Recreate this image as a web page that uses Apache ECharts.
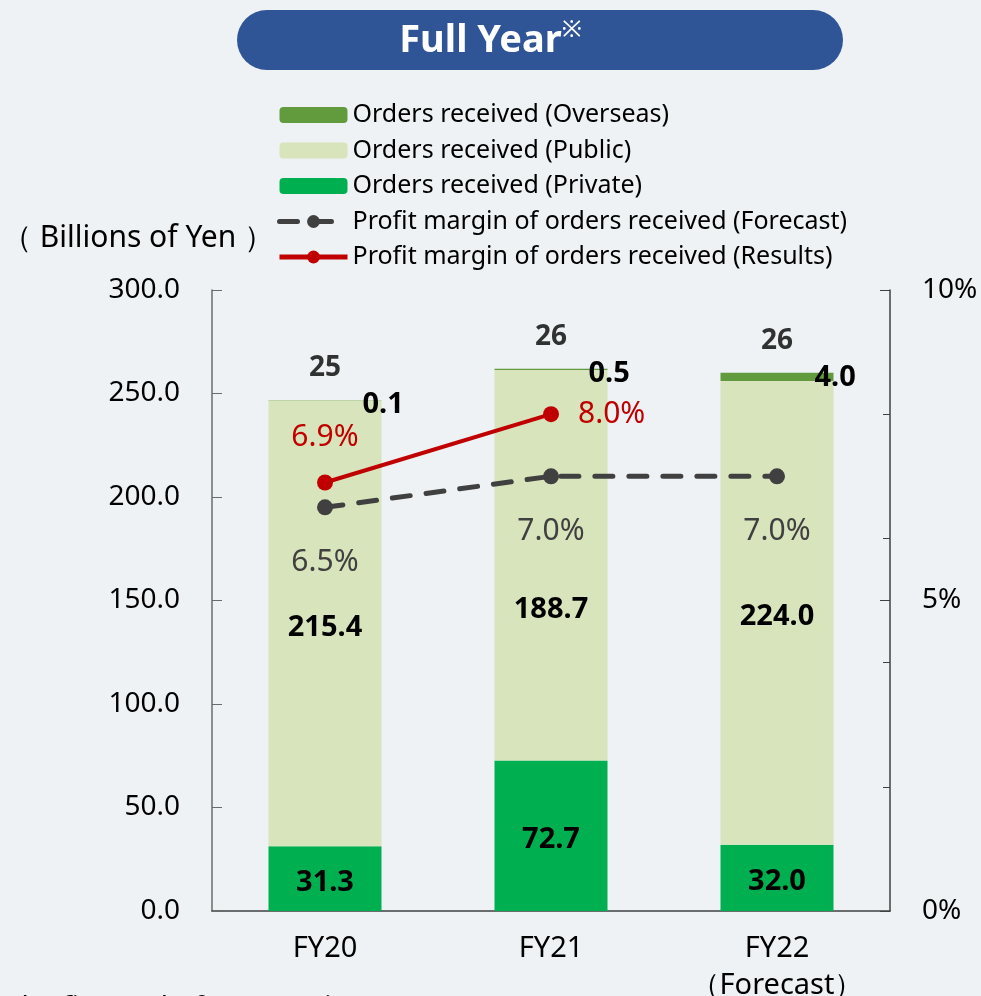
<!DOCTYPE html>
<html>
<head>
<meta charset="utf-8">
<script src="https://cdn.jsdelivr.net/npm/echarts@6/dist/echarts.min.js"></script>
<style>
html,body{margin:0;padding:0;background:#eef2f4;}
#c{width:981px;height:996px;}
</style>
</head>
<body>
<div id="c"></div>
<script>
const categories = ['FY20', 'FY21', 'FY22\n（Forecast）'];
const privateVals = [31.3, 72.7, 32.0];
const publicVals = [215.4, 188.7, 224.0];
const overseasVals = [0.1, 0.5, 4.0];
const totalLabels = ['25', '26', '26'];
const forecastMargin = [6.5, 7.0, 7.0];
const resultsMargin = [6.9, 8.0, null];
const leftAxis = {min: 0, max: 300, interval: 50};
const rightAxis = {min: 0, max: 10, interval: 5, minorInterval: 2};

const FONT = '"Noto Sans", sans-serif';
const totals = categories.map((c, i) => privateVals[i] + publicVals[i] + overseasVals[i]);

const chart = echarts.init(document.getElementById('c'), null, {renderer: 'canvas'});
const option = {
  backgroundColor: '#eef2f4',
  textStyle: {fontFamily: FONT},
  animation: false,
  graphic: [
    {type: 'rect', left: 237, top: 10, shape: {width: 606, height: 60, r: 30}, style: {fill: '#2f5597'}},
    {type: 'text', left: 'center', top: 18, style: {
      text: '{t|Full Year}{s|※}',
      rich: {t: {fontSize: 38, fontWeight: 'bold', fill: '#fff', fontFamily: FONT, lineHeight: 46},
             s: {fontSize: 24, fill: '#fff', fontFamily: FONT, verticalAlign: 'top', lineHeight: 30}}
    }},
    {type: 'text', left: 2, top: 223, style: {text: '（ Billions of Yen ）', fontSize: 30, fill: '#000', fontFamily: FONT}},
    {type: 'text', left: -36, top: 994, style: {text: '(※) the figures before FY21 i', fontSize: 28, fill: '#000', fontFamily: FONT}}
  ],
  legend: {
    orient: 'vertical', left: 272, top: 97,
    itemWidth: 68, itemHeight: 16, itemGap: 9.5, itemTextGap: 7,
    textStyle: {fontSize: 25, color: '#000', fontFamily: FONT, lineHeight: 26},
    data: [
      {name: 'Orders received (Overseas)'},
      {name: 'Orders received (Public)'},
      {name: 'Orders received (Private)'},
      {name: 'Profit margin of orders received (Forecast)', lineStyle: {width: 5}},
      {name: 'Profit margin of orders received (Results)', lineStyle: {width: 5}}
    ]
  },
  grid: {left: 212, right: 91, top: 290, bottom: 85, outerBoundsMode: 'none', containLabel: false},
  xAxis: {
    type: 'category', data: categories,
    axisLine: {lineStyle: {color: '#404040', width: 1.5}},
    axisTick: {inside: true, length: 10, lineStyle: {color: '#404040'}},
    axisLabel: {fontSize: 29, color: '#000', margin: 19, lineHeight: 37, fontFamily: FONT}
  },
  yAxis: [
    {type: 'value', min: leftAxis.min, max: leftAxis.max, interval: leftAxis.interval,
     axisLine: {show: true, lineStyle: {color: '#6b6b6b', width: 1.5}},
     axisTick: {show: true, inside: true, length: 10, lineStyle: {color: '#6b6b6b'}},
     splitLine: {show: false},
     axisLabel: {fontSize: 28, color: '#000', margin: 32, formatter: v => v.toFixed(1), fontFamily: FONT}},
    {type: 'value', min: rightAxis.min, max: rightAxis.max, interval: rightAxis.interval, position: 'right',
     axisLine: {show: true, lineStyle: {color: '#404040', width: 1.5}},
     axisTick: {show: true, inside: true, length: 10, lineStyle: {color: '#404040'}},
     splitLine: {show: false},
     axisLabel: {fontSize: 28, color: '#000', margin: 32, formatter: '{value}%', fontFamily: FONT}},
    {type: 'value', min: rightAxis.min, max: rightAxis.max, interval: rightAxis.minorInterval, position: 'right',
     axisLine: {show: false},
     axisTick: {show: true, inside: true, length: 7, lineStyle: {color: '#404040'}},
     splitLine: {show: false}, axisLabel: {show: false}}
  ],
  series: [
    {name: 'Orders received (Private)', type: 'bar', stack: 'o', barWidth: '50%', data: privateVals,
     itemStyle: {color: '#00b050'},
     label: {show: true, position: 'inside', offset: [0, 4], fontSize: 29, fontWeight: 'bold', color: '#000',
             formatter: p => p.value.toFixed(1), fontFamily: FONT}},
    {name: 'Orders received (Public)', type: 'bar', stack: 'o', data: publicVals.map((v, i) => i === 1 ? {value: v, label: {offset: [0, 45]}} : v),
     itemStyle: {color: '#d8e4bc'},
     label: {show: true, position: 'inside', offset: [0, 4], fontSize: 29, fontWeight: 'bold', color: '#000',
             formatter: p => p.value.toFixed(1), fontFamily: FONT}},
    {name: 'Orders received (Overseas)', type: 'bar', stack: 'o', data: overseasVals,
     itemStyle: {color: '#629a3e'},
     label: {show: true, position: [94, 5], align: 'left', verticalAlign: 'middle', fontSize: 29, fontWeight: 'bold', color: '#000',
             formatter: p => p.value.toFixed(1), fontFamily: FONT}},
    {name: 'totals', type: 'scatter', data: totals, symbolSize: 0, silent: true,
     label: {show: true, position: 'top', distance: 18, fontSize: 28, fontWeight: 'bold', color: '#000',
             formatter: p => totalLabels[p.dataIndex], fontFamily: FONT}},
    {name: 'Profit margin of orders received (Forecast)', type: 'line', yAxisIndex: 1, data: forecastMargin,
     symbol: 'circle', symbolSize: 16, z: 5,
     itemStyle: {color: '#404040'},
     lineStyle: {color: '#404040', width: 5, type: [18, 16], cap: 'round'},
     label: {show: true, position: 'bottom', distance: 32, fontSize: 30, color: '#404040',
             formatter: p => p.value.toFixed(1) + '%', fontFamily: FONT}},
    {name: 'Profit margin of orders received (Results)', type: 'line', yAxisIndex: 1,
     data: resultsMargin.map((v, i) => i === 1 ? {value: v, label: {position: 'right', distance: 19}} : v),
     symbol: 'circle', symbolSize: 16, z: 6,
     itemStyle: {color: '#c00000'},
     lineStyle: {color: '#c00000', width: 4},
     label: {show: true, position: 'top', distance: 22, fontSize: 30, color: '#c00000',
             formatter: p => p.value.toFixed(1) + '%', fontFamily: FONT}}
  ]
};
chart.setOption(option);
</script>
</body>
</html>
